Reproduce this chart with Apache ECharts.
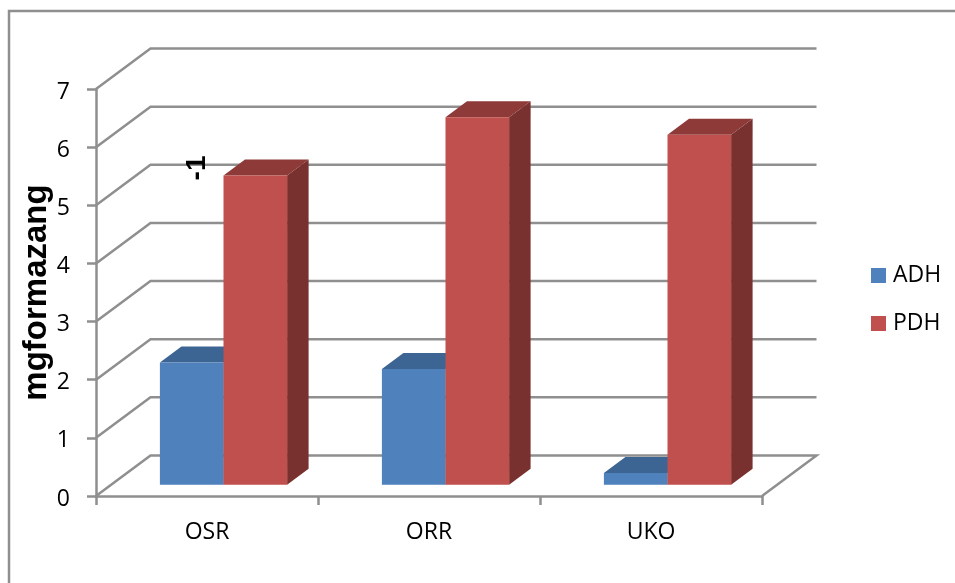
<!DOCTYPE html>
<html>
<head>
<meta charset="utf-8">
<style>html,body{margin:0;padding:0;background:#fff}#chart{width:955px;height:583px}</style>
<script src="https://cdn.jsdelivr.net/npm/echarts@6/dist/echarts.min.js"></script>
</head>
<body>
<div id="chart"></div>
<script>
// Enzyme activity per sample site
const categories = ['OSR', 'ORR', 'UKO'];
const adhValues = [2.10, 1.99, 0.20];
const pdhValues = [5.32, 6.32, 6.02];
const wallLevels = [0, 1, 2, 3, 4, 5, 6, 7];

// Pseudo-3D geometry, in pixels
const WALL_DX = 54.5, WALL_DY = -40.5;   // front plane to back wall
const BAR_DX = 16.5, BAR_DY = -11.3;     // front plane to bar face
const SIDE_DX = 21.5, SIDE_DY = -16;     // depth of a column
const BAR_SHARE = 0.2865;                // column width as a share of a category band

const LINE = '#8f8f8f';
const LINE_W = 2.5;
const FONT = '"Open Sans", "Noto Sans", sans-serif';

function poly(points, fill) {
  return { type: 'polygon', shape: { points }, style: { fill, stroke: null }, silent: true };
}

// Back wall and floor: one line per axis level, bent at the wall corner
function renderWall(level, api) {
  const band = api.size([1, 0])[0];
  const y = api.coord([0, level])[1];
  const left = api.coord([0, level])[0] - band / 2;
  const right = api.coord([categories.length - 1, level])[0] + band / 2;
  const pts = [[left, y], [left + WALL_DX, y + WALL_DY], [right + WALL_DX, y + WALL_DY]];
  if (level === 0) pts.push([right, y]);
  return {
    type: 'polyline', shape: { points: pts }, silent: true,
    style: { stroke: LINE, lineWidth: LINE_W, fill: null }
  };
}

// A column with front, top and side faces; slot -1 is left of the band centre, 0 right of it
function columnRenderer(slot, front, top, side) {
  return function (params, api) {
    const idx = api.value(0);
    const band = api.size([1, 0])[0];
    const w = band * BAR_SHARE;
    const base = api.coord([idx, 0]);
    const head = api.coord([idx, api.value(1)]);
    const x0 = base[0] + BAR_DX + slot * w, x1 = x0 + w;
    const y0 = base[1] + BAR_DY, y1 = head[1] + BAR_DY;
    return {
      type: 'group',
      children: [
        poly([[x1, y0], [x1 + SIDE_DX, y0 + SIDE_DY], [x1 + SIDE_DX, y1 + SIDE_DY], [x1, y1]], side),
        poly([[x0, y1], [x1, y1], [x1 + SIDE_DX, y1 + SIDE_DY], [x0 + SIDE_DX, y1 + SIDE_DY]], top),
        poly([[x0, y0], [x1, y0], [x1, y1], [x0, y1]], front)
      ]
    };
  };
}

const chart = echarts.init(document.getElementById('chart'), null, { renderer: 'canvas' });
chart.setOption({
  animation: false,
  backgroundColor: '#fff',
  grid: { left: 96, right: 193, top: 89, bottom: 87, outerBoundsMode: 'none' },
  legend: {
    orient: 'vertical', left: 871, top: 263.5, padding: 0,
    itemWidth: 15, itemHeight: 15, itemGap: 24,
    icon: 'rect', selectedMode: false,
    data: ['ADH', 'PDH'],
    textStyle: { fontFamily: FONT, fontSize: 23, lineHeight: 24, color: '#000', padding: [0, 0, 0, 2] }
  },
  xAxis: {
    type: 'category', data: categories,
    axisLine: { lineStyle: { color: LINE, width: LINE_W } },
    axisTick: { show: true, length: 9, alignWithLabel: false, lineStyle: { color: LINE, width: LINE_W } },
    axisLabel: { fontFamily: FONT, fontSize: 23, color: '#000', margin: 25 },
    splitLine: { show: false }
  },
  yAxis: {
    type: 'value', min: 0, max: 7, interval: 1,
    name: 'mgformazang', nameLocation: 'middle', nameRotate: 90, nameGap: 43, nameMoveOverlap: false,
    nameTextStyle: { fontFamily: '"Liberation Sans", Arial, sans-serif', fontWeight: 'bold', fontSize: 33, color: '#000' },
    axisLine: { show: true, lineStyle: { color: LINE, width: LINE_W } },
    axisTick: { show: true, length: 9, lineStyle: { color: LINE, width: LINE_W } },
    axisLabel: { fontFamily: FONT, fontSize: 23, color: '#000', margin: 26, verticalAlign: 'top', lineHeight: 6 },
    splitLine: { show: false }
  },
  graphic: [
    { // outer chart frame, open to the right and below
      type: 'polyline', silent: true, z: 0,
      shape: { points: [[9, 583], [9, 11], [955, 11]] },
      style: { stroke: LINE, lineWidth: LINE_W, fill: null }
    },
    { // exponent of the axis unit
      type: 'text', silent: true, z: 10,
      x: 197, y: 168, rotation: Math.PI / 2,
      style: {
        text: '-1', fontFamily: '"Liberation Sans", Arial, sans-serif', fontWeight: 'bold',
        fontSize: 28, fill: '#000', align: 'center', verticalAlign: 'middle'
      }
    }
  ],
  series: [
    {
      type: 'custom', name: 'wall', silent: true, z: 1,
      coordinateSystem: 'cartesian2d',
      data: wallLevels.map(v => [0, v]),
      encode: { x: 0, y: 1 },
      renderItem: (params, api) => renderWall(api.value(1), api)
    },
    {
      type: 'custom', name: 'ADH', z: 3,
      itemStyle: { color: '#4F81BD' },
      data: adhValues.map((v, i) => [i, v]),
      encode: { x: 0, y: 1 },
      renderItem: columnRenderer(-1, '#4F81BD', '#3D6594', '#365A85')
    },
    {
      type: 'custom', name: 'PDH', z: 4,
      itemStyle: { color: '#C0504D' },
      data: pdhValues.map((v, i) => [i, v]),
      encode: { x: 0, y: 1 },
      renderItem: columnRenderer(0, '#C0504D', '#8D3A38', '#79312F')
    }
  ]
});
</script>
</body>
</html>
